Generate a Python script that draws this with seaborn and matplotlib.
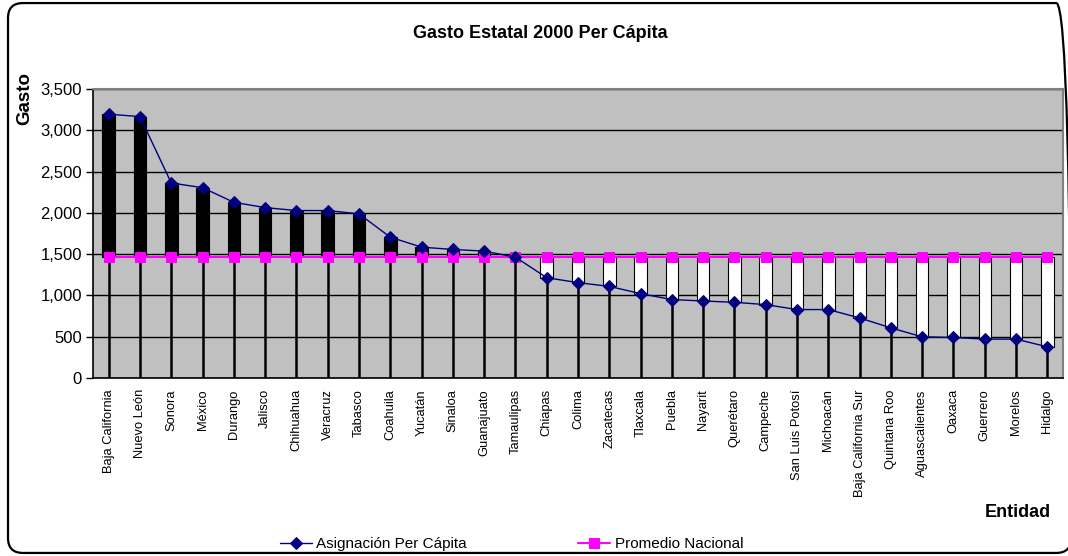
import numpy as np
import pandas as pd
import matplotlib
matplotlib.use("Agg")
import matplotlib.pyplot as plt
import seaborn as sns
from matplotlib.patches import FancyBboxPatch

# Gasto estatal per cápita, año 2000
entidades = ['Baja California', 'Nuevo León', 'Sonora', 'México', 'Durango',
             'Jalisco', 'Chihuahua', 'Veracruz', 'Tabasco', 'Coahuila',
             'Yucatán', 'Sinaloa', 'Guanajuato', 'Tamaulipas', 'Chiapas',
             'Colima', 'Zacatecas', 'Tlaxcala', 'Puebla', 'Nayarit',
             'Querétaro', 'Campeche', 'San Luis Potosí', 'Michoacán',
             'Baja California Sur', 'Quintana Roo', 'Aguascalientes',
             'Oaxaca', 'Guerrero', 'Morelos', 'Hidalgo']
asignacion = [3195, 3166, 2362, 2305, 2128, 2064, 2028, 2028, 1988, 1706,
              1585, 1557, 1537, 1464, 1215, 1155, 1110, 1022, 950, 933,
              917, 889, 829, 829, 728, 607, 499, 491, 471, 471, 378]
promedio = [1470] * len(entidades)
y_ticks = [0, 500, 1000, 1500, 2000, 2500, 3000, 3500]

df = pd.DataFrame({'pos': np.arange(len(entidades)),
                   'entidad': entidades,
                   'asignacion': asignacion,
                   'promedio': promedio})

sns.set_style('white')
plt.rcParams['font.family'] = ['Liberation Sans', 'DejaVu Sans']
plt.rcParams['text.color'] = 'black'
plt.rcParams['xtick.color'] = 'black'
plt.rcParams['ytick.color'] = 'black'
plt.rcParams['axes.labelcolor'] = 'black'

fig = plt.figure(figsize=(10.68, 5.56), dpi=100)
ax = fig.add_axes([0.0871, 0.3201, 0.9082, 0.5198])
ax.set_facecolor('#c0c0c0')

# lineas de proyeccion (drop lines)
tope = np.maximum(df['asignacion'], df['promedio'])
ax.vlines(df['pos'], 0, tope, color='black', lw=1.8, zorder=2)

# barras arriba/abajo
dif = df['asignacion'] - df['promedio']
colores = ['black' if d > 0 else 'white' for d in dif]
ax.bar(df['pos'], dif, bottom=df['promedio'], width=0.4, color=colores,
       edgecolor='black', linewidth=0.8, zorder=3)

sns.lineplot(data=df, x='pos', y='asignacion', ax=ax, color='#000080',
             marker='D', markersize=6, markeredgecolor='#000080',
             linewidth=1.0, label='Asignación Per Cápita', zorder=5)
sns.lineplot(data=df, x='pos', y='promedio', ax=ax, color='#ff00ff',
             marker='s', markersize=7, markeredgecolor='#ff00ff',
             linewidth=1.5, label='Promedio Nacional', zorder=4)

ax.set_xlim(-0.5, len(entidades) - 0.5)
ax.set_ylim(0, 3500)
ax.set_yticks(y_ticks)
ax.set_yticklabels([f'{v:,}' for v in y_ticks], fontsize=12)
ax.yaxis.grid(True, color='black', lw=1)
ax.set_axisbelow(True)

ax.set_xticks(df['pos'])
ax.set_xticklabels(entidades, rotation=90, fontsize=9.3)
ax.set_xticks(np.arange(len(entidades) + 1) - 0.5, minor=True)
ax.tick_params(axis='x', which='major', length=0, pad=8)
ax.tick_params(axis='x', which='minor', length=5, width=1, color='black',
               direction='out')
ax.tick_params(axis='y', length=5, width=1, color='black', direction='out',
               left=True, pad=3)
ax.set_xlabel('')
ax.set_ylabel('')

for lado in ['left', 'bottom']:
    ax.spines[lado].set_color('black')
    ax.spines[lado].set_linewidth(1.2)
for lado in ['top', 'right']:
    ax.spines[lado].set_color('#808080')
    ax.spines[lado].set_linewidth(1.5)

handles, labels = ax.get_legend_handles_labels()
ax.get_legend().remove()
fig.legend(handles, labels, ncol=2, loc='center',
           bbox_to_anchor=(0.479, 0.021), frameon=False, fontsize=11,
           handlelength=2.1, columnspacing=7.3, handletextpad=0.3)

fig.text(0.5056, 0.9406, 'Gasto Estatal 2000 Per Cápita', ha='center',
         va='center', fontsize=13, fontweight='bold')
fig.text(0.0234, 0.823, 'Gasto', rotation=90, ha='center', va='center',
         fontsize=13.5, fontweight='bold')
fig.text(0.984, 0.079, 'Entidad', ha='right', va='center', fontsize=13,
         fontweight='bold')

# borde redondeado del area del grafico (el lado derecho queda recortado)
borde = FancyBboxPatch((0.0075 + 0.014, 0.0054 + 0.027),
                       1.003 - 0.0075 - 0.028, 0.9892 - 0.054,
                       boxstyle='round,pad=0.014', transform=fig.transFigure,
                       fill=False, edgecolor='black', linewidth=1.6,
                       mutation_aspect=1068 / 556)
fig.patches.append(borde)

fig.savefig('out.png', dpi=100)
